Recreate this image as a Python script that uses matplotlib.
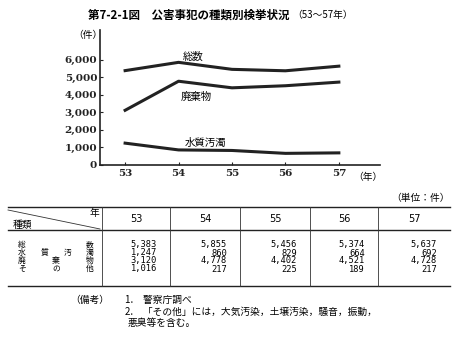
import matplotlib
matplotlib.use("Agg")
import matplotlib.pyplot as plt
from matplotlib.lines import Line2D

plt.rcParams["font.family"] = ["Noto Sans CJK JP", "DejaVu Sans"]

years = [53, 54, 55, 56, 57]
total = [5383, 5855, 5456, 5374, 5637]
water = [1247, 860, 829, 664, 692]
waste = [3120, 4778, 4402, 4521, 4728]
other = [1016, 217, 225, 189, 217]

yticks = [0, 1000, 2000, 3000, 4000, 5000, 6000]
row_labels = [["総", "数"], ["水", "質", "汚", "濁"], ["廃", "棄", "物"], ["そ", "の", "他"]]
rows = [total, water, waste, other]

title = "第7-2-1図　公害事犯の種類別検挙状況"
notes = ["1.　警察庁調べ", "2.　「その他」には，大気汚染，土壌汚染，騒音，振動，", "悪臭等を含む。"]

W, H = 454, 341
fig = plt.figure(figsize=(W / 100, H / 100), dpi=100)
fig.patch.set_facecolor("white")


def px(x, y):
    return x / W, 1 - y / H


def text(x, y, s, **kw):
    return fig.text(*px(x, y), s, **kw)


def hline(x0, x1, y, lw=0.8):
    fig.add_artist(Line2D([x0 / W, x1 / W], [1 - y / H, 1 - y / H], color="#222", lw=lw))


def vline(x, y0, y1, lw=0.6):
    fig.add_artist(Line2D([x / W, x / W], [1 - y0 / H, 1 - y1 / H], color="#333", lw=lw))


# title
t = text(88, 15, title, fontsize=8.3, fontweight="bold", va="center", ha="left")
fig.add_artist(matplotlib.text.Annotation("（53〜57年）", xy=(1, 0.5), xycoords=t,
                                          xytext=(2, 0), textcoords="offset points",
                                          fontsize=7, va="center", ha="left"))

# chart
ax = fig.add_axes([100 / W, 1 - 165 / H, 280 / W, 135 / H])
ax.set_xlim(52.53, 57.77)
ax.set_ylim(0, 7700)
for s in ["top", "right"]:
    ax.spines[s].set_visible(False)
for s in ["left", "bottom"]:
    ax.spines[s].set_linewidth(1.2)
    ax.spines[s].set_color("#222")
ax.set_yticks(yticks)
ax.set_yticklabels([f"{v:,}" for v in yticks], family="DejaVu Serif", fontweight="bold", fontsize=7.5)
ax.set_xticks(years)
ax.set_xticklabels([str(y) for y in years], family="DejaVu Serif", fontweight="bold", fontsize=7.5)
ax.tick_params(direction="in", length=2.5, width=0.8, pad=3, colors="#222")
ax.tick_params(axis="y", pad=2)

for series in (total, waste, water):
    ax.plot(years, series, color="#222", lw=2.2, solid_joinstyle="round")

text(88, 35, "（件）", fontsize=7, va="center", ha="center")
text(368, 177, "（年）", fontsize=7, va="center", ha="center")
text(193, 57, "総数", fontsize=7.5, va="center", ha="center")
text(196, 97, "廃棄物", fontsize=7.5, va="center", ha="center")
text(205, 143, "水質汚濁", fontsize=7.5, va="center", ha="center")

# table
text(450, 198, "（単位：件）", fontsize=7, va="center", ha="right")
top, head_bot, bot = 207, 230, 286
left, right = 8, 450
cols = [102, 170, 240, 310, 378, 450]
hline(left, right, top, lw=1.0)
hline(left, right, head_bot, lw=1.0)
hline(left, right, bot, lw=1.0)
for x in cols[:-1]:
    vline(x, top, bot)
fig.add_artist(Line2D([left / W, 100 / W], [1 - 210 / H, 1 - 229 / H], color="#333", lw=0.6))
text(94, 213, "年", fontsize=7, va="center", ha="center")
text(22, 225, "種類", fontsize=7, va="center", ha="center")

for i, y in enumerate(years):
    cx = (cols[i] + cols[i + 1]) / 2
    text(cx, 219, str(y), fontsize=7, va="center", ha="center", family="DejaVu Sans")

row_y = [245, 253, 261, 269]
for r, (labels, vals) in enumerate(zip(row_labels, rows)):
    n = len(labels)
    for k, ch in enumerate(labels):
        x = 22 + (90 - 22) * k / (n - 1)
        text(x, row_y[r], ch, fontsize=5.6, va="center", ha="center")
    for i, v in enumerate(vals):
        text(cols[i + 1] - 13, row_y[r], f"{v:,}",
             fontsize=6.3, va="center", ha="right", family="DejaVu Sans Mono")

# notes
text(70, 300, "（備考）", fontsize=7, va="center", ha="left")
text(125, 300, notes[0], fontsize=7, va="center", ha="left")
text(125, 312, notes[1], fontsize=7, va="center", ha="left")
text(128, 323, notes[2], fontsize=7, va="center", ha="left")

fig.savefig("out.png", dpi=100)
